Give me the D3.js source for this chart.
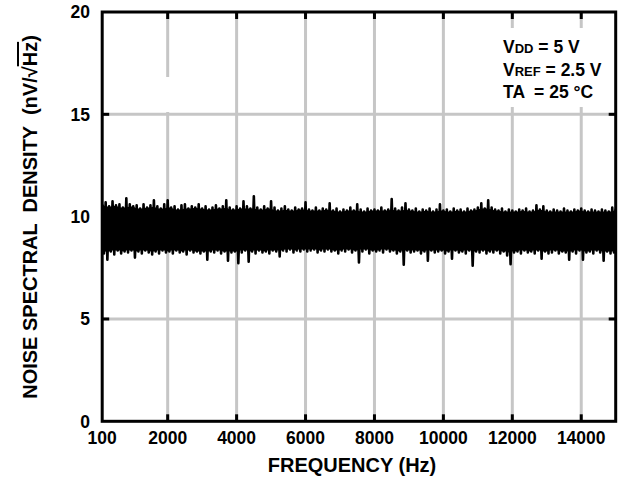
<!DOCTYPE html>
<html>
<head>
<meta charset="utf-8">
<script src="https://cdn.jsdelivr.net/npm/d3@7"></script>
<style>
  body { margin: 0; background: #fff; }
  text { font-family: "Liberation Sans", Arial, sans-serif; font-weight: bold; fill: #000; }
</style>
</head>
<body>
<div id="chart"></div>
<script>
/**
 * Noise spectral density vs frequency
 */

// axis ticks
var xTicks = [100, 2000, 4000, 6000, 8000, 10000, 12000, 14000];
var yTicks = [0, 5, 10, 15, 20];

// frequency grid of the trace (Hz)
var freqs = d3.range(100, 15001, 100);

// upper / lower swing of the noise trace at each frequency (nV/rtHz)
var hiVals = [
  10.6, 10.7, 10.5, 10.75, 10.55, 10.6, 10.45, 10.9, 10.6, 10.5,
  10.55, 10.4, 10.6, 10.45, 10.55, 10.8, 10.5, 10.4, 10.6, 10.8,
  10.45, 10.5, 10.35, 10.55, 10.6, 10.4, 10.5, 10.45, 10.6, 10.4,
  10.5, 10.35, 10.45, 10.55, 10.4, 10.5, 10.8, 10.45, 10.35, 10.5,
  10.4, 10.75, 10.5, 10.4, 11.0, 10.45, 10.35, 10.5, 10.4, 10.75,
  10.45, 10.3, 10.4, 10.5, 10.35, 10.3, 10.45, 10.35, 10.4, 10.7,
  10.35, 10.3, 10.45, 10.3, 10.4, 10.35, 10.65, 10.3, 10.4, 10.25,
  10.35, 10.3, 10.45, 10.3, 10.6, 10.35, 10.25, 10.4, 10.3, 10.35,
  10.3, 10.45, 10.3, 10.35, 10.86, 10.4, 10.3, 10.45, 10.65, 10.35,
  10.3, 10.4, 10.25, 10.35, 10.3, 10.4, 10.25, 10.35, 10.6, 10.3,
  10.35, 10.25, 10.4, 10.3, 10.35, 10.25, 10.4, 10.3, 10.35, 10.45,
  10.65, 10.4, 10.8, 10.45, 10.35, 10.3, 10.4, 10.25, 10.35, 10.3,
  10.25, 10.35, 10.3, 10.4, 10.25, 10.3, 10.55, 10.35, 10.5, 10.3,
  10.25, 10.35, 10.3, 10.25, 10.4, 10.3, 10.25, 10.35, 10.3, 10.4,
  10.3, 10.25, 10.35, 10.3, 10.25, 10.35, 10.3, 10.25, 10.45, 10.35
];
var loVals = [
  8.2, 7.9, 8.3, 8.15, 8.35, 8.2, 8.3, 8.25, 8.35, 8.0,
  8.3, 8.2, 8.35, 8.25, 8.15, 8.3, 8.2, 8.35, 8.25, 8.3,
  8.2, 8.35, 8.25, 8.3, 8.15, 8.35, 8.25, 8.3, 8.2, 8.3,
  7.9, 8.3, 8.25, 8.35, 8.2, 8.3, 7.85, 8.25, 8.3, 7.73,
  8.25, 8.35, 7.8, 8.3, 8.2, 8.35, 8.25, 8.3, 8.2, 8.35,
  8.3, 8.05, 8.35, 8.3, 8.4, 8.25, 8.35, 8.3, 8.4, 8.3,
  8.35, 8.4, 8.25, 8.35, 8.3, 8.4, 8.3, 8.35, 8.2, 8.35,
  8.3, 8.4, 8.25, 8.35, 7.76, 8.3, 8.4, 8.2, 8.35, 8.3,
  8.35, 8.25, 8.4, 8.3, 8.35, 8.2, 8.3, 7.65, 8.35, 8.25,
  8.3, 8.35, 8.2, 8.3, 7.85, 8.35, 8.25, 8.3, 8.35, 8.2,
  8.3, 7.95, 8.35, 8.25, 8.3, 8.2, 8.35, 7.6, 8.3, 8.25,
  8.35, 8.2, 8.3, 8.25, 8.35, 8.2, 8.3, 8.1, 7.68, 8.25,
  8.3, 8.2, 8.35, 8.25, 8.3, 8.2, 8.35, 7.95, 8.3, 8.2,
  8.25, 8.35, 8.2, 8.3, 8.25, 7.9, 8.3, 8.2, 8.35, 7.9,
  8.25, 8.3, 8.2, 8.35, 8.25, 7.85, 8.3, 8.2, 8.25, 8.3
];

// conditions box
var noteMain = ['V', 'V', 'TA'];
var noteSub = ['DD', 'REF', ''];
var noteRest = [' = 5 V', ' = 2.5 V', '  = 25 °C'];

/**
 * Vars
 */
var W = 622, H = 487,
    x = d3.scaleLinear().domain([100, 15000]).range([102.2, 615.7]),
    y = d3.scaleLinear().domain([0, 20]).range([421.3, 12]),
    gridColor = '#c6c6c6';

var svg = d3.select('#chart').append('svg')
  .attr('width', W)
  .attr('height', H);

svg.append('defs').append('clipPath').attr('id', 'plot-clip')
  .append('rect')
    .attr('x', x.range()[0]).attr('y', y.range()[1])
    .attr('width', x.range()[1] - x.range()[0])
    .attr('height', y.range()[0] - y.range()[1]);

/**
 * Grid
 */
svg.append('g').selectAll('line').data(xTicks.slice(1))
  .enter().append('line')
    .attr('x1', function(d) { return x(d); })
    .attr('x2', function(d) { return x(d); })
    .attr('y1', y(0)).attr('y2', y(20))
    .style('stroke', gridColor).style('stroke-width', 3);

// gaps in the vertical grid (as in the original)
svg.append('rect')
  .attr('x', x(2000) - 3).attr('y', 77).attr('width', 6).attr('height', 35)
  .style('fill', '#fff');
svg.append('rect')
  .attr('x', 496).attr('y', 28).attr('width', 116).attr('height', 79)
  .style('fill', '#fff');

svg.append('g').selectAll('line').data(yTicks.slice(1, -1))
  .enter().append('line')
    .attr('x1', x(100)).attr('x2', x(15000))
    .attr('y1', function(d) { return y(d); })
    .attr('y2', function(d) { return y(d); })
    .style('stroke', gridColor).style('stroke-width', 3);

/**
 * Noise trace
 */
var trace = svg.append('g').attr('clip-path', 'url(#plot-clip)');

// solid body of the band
trace.append('path')
  .datum(freqs)
  .attr('d', d3.area()
    .x(function(d) { return x(d); })
    .y0(function(d, i) { return y(Math.max(loVals[i], loVals[i - 1] || 0, loVals[i + 1] || 0)); })
    .y1(function(d, i) { return y(Math.min(hiVals[i], hiVals[i - 1] || 99, hiVals[i + 1] || 99)); }))
  .style('fill', '#000');

var pts = [];
freqs.forEach(function(f, i) {
  pts.push([f, hiVals[i]]);
  pts.push([f + 50, loVals[i]]);
});

trace.append('path')
  .datum(pts)
  .attr('d', d3.line()
    .x(function(d) { return x(d[0]); })
    .y(function(d) { return y(d[1]); }))
  .style('fill', 'none')
  .style('stroke', '#000')
  .style('stroke-width', 2.6)
  .style('stroke-linejoin', 'round');

/**
 * Frame and inward ticks
 */
var tl = 7;
var frame = svg.append('g').style('stroke', '#000').style('stroke-width', 3);
xTicks.slice(1).forEach(function(d) {
  frame.append('line').attr('x1', x(d)).attr('x2', x(d)).attr('y1', y(0)).attr('y2', y(0) - tl);
  frame.append('line').attr('x1', x(d)).attr('x2', x(d)).attr('y1', y(20)).attr('y2', y(20) + tl);
});
yTicks.slice(1, -1).forEach(function(d) {
  frame.append('line').attr('x1', x(100)).attr('x2', x(100) + tl).attr('y1', y(d)).attr('y2', y(d));
  frame.append('line').attr('x1', x(15000)).attr('x2', x(15000) - tl).attr('y1', y(d)).attr('y2', y(d));
});
frame.append('rect')
  .attr('x', x(100)).attr('y', y(20))
  .attr('width', x(15000) - x(100))
  .attr('height', y(0) - y(20))
  .style('fill', 'none');

/**
 * Tick labels
 */
svg.append('g').selectAll('text').data(xTicks)
  .enter().append('text')
    .attr('x', function(d) { return x(d); })
    .attr('y', y(0) + 23)
    .attr('text-anchor', 'middle')
    .style('font-size', '17.5px')
    .text(String);

svg.append('g').selectAll('text').data(yTicks)
  .enter().append('text')
    .attr('x', 90)
    .attr('y', function(d) { return y(d); })
    .attr('dy', '0.36em')
    .attr('text-anchor', 'end')
    .style('font-size', '17.5px')
    .text(String);

/**
 * Axis titles
 */
svg.append('text')
  .attr('x', 352)
  .attr('y', 472)
  .attr('text-anchor', 'middle')
  .style('font-size', '20px')
  .text('FREQUENCY (Hz)');

var yt = svg.append('text')
  .attr('transform', 'translate(37,217) rotate(-90)')
  .attr('text-anchor', 'middle')
  .style('font-size', '20px')
  .style('white-space', 'pre');
yt.append('tspan').text('NOISE SPECTRAL  DENSITY  (nV/√');
yt.append('tspan').style('text-decoration', 'overline').text('Hz');
yt.append('tspan').text(')');

/**
 * Conditions
 */
noteMain.forEach(function(m, i) {
  var t = svg.append('text')
    .attr('x', 503)
    .attr('y', 53 + i * 22.5)
    .style('font-size', '17.5px')
    .style('white-space', 'pre');
  t.append('tspan').text(m);
  if (noteSub[i]) t.append('tspan').style('font-size', '13px').text(noteSub[i]);
  t.append('tspan').text(noteRest[i]);
});
</script>
</body>
</html>
